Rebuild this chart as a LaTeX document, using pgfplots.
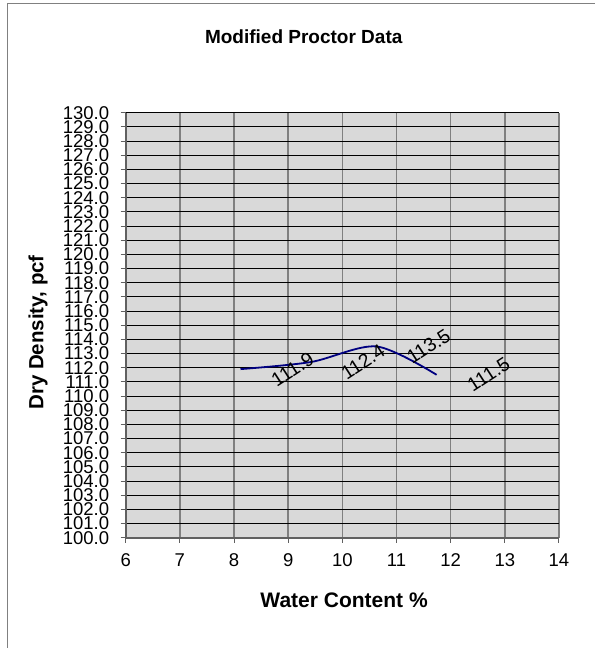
\documentclass[border=0pt]{standalone}
\usepackage{pgfplots}
\pgfplotsset{compat=1.18}
\usepackage{fontspec}
\setmainfont{Liberation Sans}
\definecolor{bgfill}{HTML}{D9D9D9}
\definecolor{vgrid}{HTML}{808080}
\definecolor{axisgray}{HTML}{606060}
\definecolor{curve}{HTML}{000080}
\begin{document}
\begin{tikzpicture}
\useasboundingbox (0,0) rectangle (595pt,648pt);
\fill[white] (0,0) rectangle (595pt,648pt);
\draw[color=gray, line width=1pt] (7.8pt,0) -- (7.8pt,644.1pt) -- (595pt,644.1pt);
\begin{axis}[
  at={(125.7pt,110.3pt)}, anchor=south west,
  scale only axis, width=433.3pt, height=425pt,
  xmin=6, xmax=14, ymin=100, ymax=130,
  xtick={6,...,14}, ytick={100,...,130},
  /pgf/number format/assume math mode=true,
  yticklabel={\pgfmathprintnumber[fixed,fixed zerofill,precision=1]{\tick}},
  xticklabel={\pgfmathprintnumber[fixed,precision=0]{\tick}},
  ticklabel style={font=\fontsize{18.5}{18.5}\selectfont},
  xticklabel style={anchor=north, yshift=-7pt, text height=13.5pt, text depth=0pt},
  yticklabel style={xshift=-8pt},
  tick align=outside, major tick length=5pt,
  tick style={color=axisgray, line width=1pt},
  axis x line*=bottom, axis y line*=left,
  axis line style={color=axisgray, line width=1.6pt, -},
  axis background/.style={fill=bgfill},
  xmajorgrids, ymajorgrids,
  x grid style={color=vgrid, line width=1.4pt},
  y grid style={color=black, line width=0.8pt},
  title={\textbf{Modified Proctor Data}},
  title style={font=\fontsize{19}{19}\selectfont, at={(axis description cs:0.411,1.165)}, anchor=center},
  xlabel={\textbf{Water Content \%}},
  xlabel style={font=\fontsize{21}{21}\selectfont, at={(axis description cs:0.504,-0.147)}, anchor=center},
  ylabel={\textbf{Dry Density, pcf}},
  ylabel style={font=\fontsize{20.5}{20.5}\selectfont, at={(axis description cs:-0.202,0.483)}, anchor=center},
  clip=false,
]
\addplot[color=curve, line width=1.8pt, smooth, mark=none,
  nodes near coords, point meta=explicit symbolic,
  every node near coord/.append style={font=\fontsize{19.5}{19.5}\selectfont, color=black, anchor=center, xshift=52pt, rotate=33}]
  coordinates {
  (8.12,111.9) [111.9]
  (9.42,112.4) [112.4]
  (10.63,113.5) [113.5]
  (11.74,111.5) [111.5]
};
\end{axis}
\end{tikzpicture}
\end{document}
